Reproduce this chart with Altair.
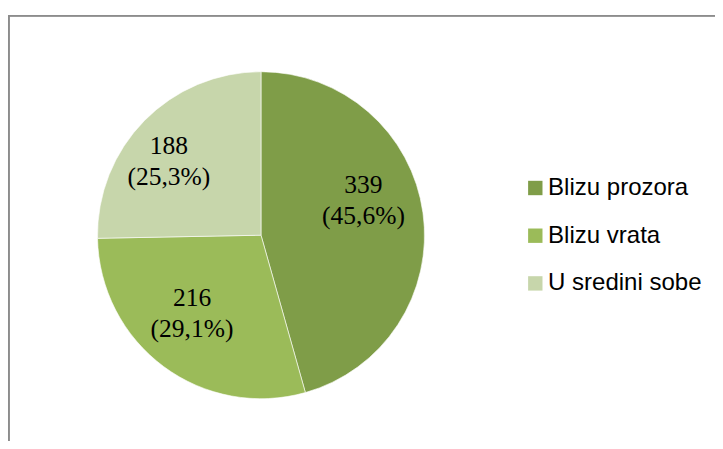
import altair as alt
import pandas as pd

categories = ["Blizu prozora", "Blizu vrata", "U sredini sobe"]
counts = [339, 216, 188]
colors = ["#7F9D48", "#9BBB59", "#C7D6AB"]

df = pd.DataFrame({"cat": categories, "value": counts, "idx": list(range(len(categories)))})
total = sum(counts)

W, H = 707, 433
CX, CY, R = 253, 227.2, 163.5

base = alt.Chart(df).transform_stack(
    stack="value", groupby=[], as_=["v0", "v1"], sort=[alt.SortField("idx")]
).transform_calculate(
    mid="(datum.v0 + datum.v1) / 2",
    pct="replace(format(datum.value / %d, '.1%%'), '.', ',')" % total,
).transform_calculate(
    label="datum.value + '\\n(' + datum.pct + ')'"
)

theta_scale = alt.Scale(domain=[0, total])

pie = base.mark_arc(outerRadius=R, stroke="#ffffff", strokeWidth=0.6).encode(
    theta=alt.Theta("v0:Q", scale=theta_scale),
    theta2="v1:Q",
    color=alt.Color(
        "cat:N",
        scale=alt.Scale(domain=categories, range=colors),
        legend=alt.Legend(
            title=None,
            orient="none",
            legendX=515.3,
            legendY=168,
            symbolType="square",
            symbolSize=207,
            symbolStrokeWidth=0,
            labelFont="Liberation Sans",
            labelFontSize=24,
            labelColor="#000000",
            labelOffset=0.8,
            rowPadding=23.7,
            padding=0,
        ),
    ),
    x=alt.value(CX),
    y=alt.value(CY),
)

def label_layer(cat, dx, dy):
    return base.transform_filter(alt.datum.cat == cat).mark_text(
        radius=110,
        dx=dx,
        dy=dy,
        font="Liberation Serif",
        fontSize=25.5,
        lineBreak="\n",
        lineHeight=31,
        align="center",
        baseline="middle",
        color="#000000",
    ).encode(
        theta=alt.Theta("mid:Q", scale=theta_scale),
        text="label:N",
        x=alt.value(CX),
        y=alt.value(CY),
    )

labels = [
    label_layer(categories[0], -6.5, -35),
    label_layer(categories[1], -3.4, -26),
    label_layer(categories[2], -13.6, -12.5),
]

frame_top = alt.Chart(df).mark_rule(color="#8C8C8C", strokeWidth=1.6).encode(
    x=alt.value(0), x2=alt.value(W), y=alt.value(7.8)
)
frame_left = alt.Chart(df).mark_rule(color="#8C8C8C", strokeWidth=1.6).encode(
    x=alt.value(0.8), y=alt.value(7), y2=alt.value(H)
)

chart = alt.layer(pie, *labels, frame_top, frame_left).properties(
    width=W,
    height=H,
    padding=0,
    autosize=alt.AutoSizeParams(type="none"),
).configure_view(stroke=None)

chart.save("out.html", embed_options={"renderer": "svg", "actions": False})
